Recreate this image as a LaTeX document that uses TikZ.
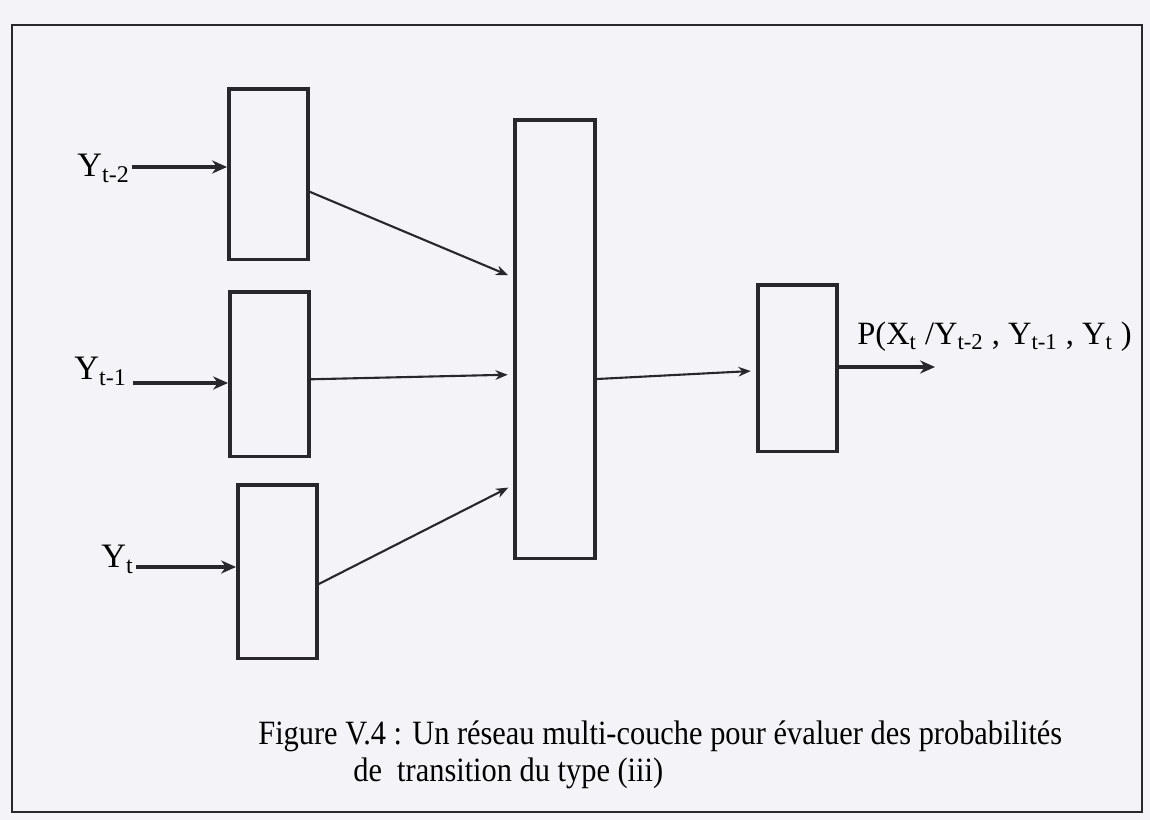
\documentclass[tikz,border=0pt]{standalone}
\usepackage{fontspec}
\setmainfont{Liberation Serif}
\usepackage{xcolor}
\usetikzlibrary{arrows.meta,calc}

\definecolor{paper}{RGB}{243,243,248}
\definecolor{ink}{RGB}{40,40,44}

\begin{document}
\begin{tikzpicture}[x=0.02cm,y=-0.02cm,
  cell/.style={draw=ink, line width=2pt, inner sep=0pt, minimum width=1.58cm},
  feed/.style={draw=ink, line width=2.2pt, -{Stealth[length=8.5pt,width=7.5pt]}},
  link/.style={draw=ink, line width=1.2pt, -{Stealth[length=7pt,width=5.5pt]}, shorten >=3pt},
  lbl/.style={inner sep=0pt, font=\fontsize{19.5}{22}\selectfont},
  legend/.style={inner sep=0pt, font=\fontsize{17.3}{21}\selectfont}]

% paper and frame
\fill[paper] (0,0) rectangle (1150,820);
\draw[ink, line width=1.1pt] (12,25) rectangle (1142,812);

% first layer
\node[cell, minimum height=3.42cm, anchor=north west] (boxA) at (227,87) {};
\node[cell, minimum height=3.30cm, anchor=north west] (boxB) at (228,290) {};
\node[cell, minimum height=3.48cm, anchor=north west] (boxC) at (236,483) {};
% hidden layer and output
\node[cell, minimum height=8.78cm, minimum width=1.6cm, anchor=north west] (boxD) at (513,118) {};
\node[cell, minimum height=3.34cm, anchor=north west] (boxE) at (756,283) {};

% inputs
\coordinate (in2) at (132,167);
\coordinate (in1) at (133,383);
\coordinate (in0) at (136,567);
\node[lbl, anchor=base east] (y2) at (130,177) {Y\textsubscript{t-2}};
\node[lbl, anchor=base east] (y1) at (127,380) {Y\textsubscript{t-1}};
\node[lbl, anchor=base east] (y0) at (134,568) {Y\textsubscript{t}};
\draw[feed] (in2) -- (in2 -| boxA.west);
\draw[feed] (in1) -- (in1 -| boxB.west);
\draw[feed] (in0) -- (in0 -| boxC.west);

% connections
\draw[link] ($(boxA.north east)!0.60!(boxA.south east)$) -- ($(boxD.north west)!0.36!(boxD.south west)$);
\draw[link] ($(boxB.north east)!0.53!(boxB.south east)$) -- ($(boxD.north west)!0.58!(boxD.south west)$);
\draw[link] ($(boxC.north east)!0.57!(boxC.south east)$) -- ($(boxD.north west)!0.83!(boxD.south west)$);
\draw[link] ($(boxD.north east)!0.59!(boxD.south east)$) -- ($(boxE.north west)!0.515!(boxE.south west)$);

% output
\coordinate (out) at (935,367);
\draw[feed] (boxE.east |- out) -- (out);
\node[inner sep=0pt, anchor=base west, font=\fontsize{18.5}{21}\selectfont] (pout) at (857,345)
  {P(X\textsubscript{t} /Y\textsubscript{t-2} , Y\textsubscript{t-1} , Y\textsubscript{t} )};

% caption
\node[legend, anchor=base west] (cap1) at (258,745)
  {\scalebox{1}[1.12]{Figure V.4 : Un réseau multi-couche pour évaluer des probabilités}};
\node[legend, anchor=base west] (cap2) at (353,782)
  {\scalebox{1}[1.12]{de\ \ transition du type (iii)}};
\end{tikzpicture}
\end{document}
